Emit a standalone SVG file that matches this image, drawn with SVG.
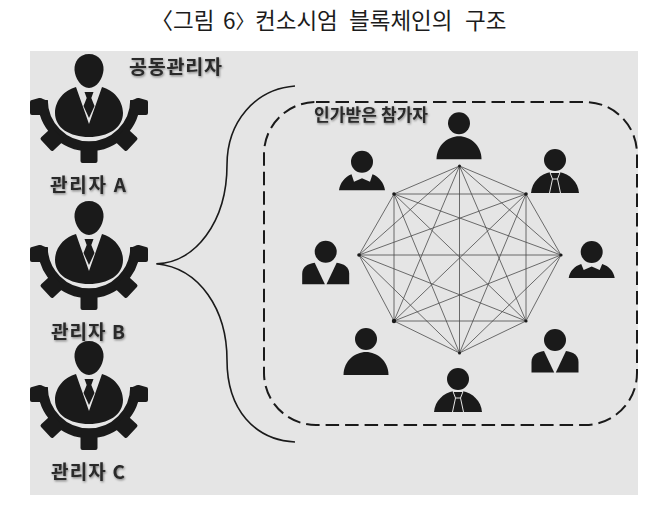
<svg xmlns="http://www.w3.org/2000/svg" xmlns:xlink="http://www.w3.org/1999/xlink" width="661" height="510" viewBox="0 0 661 510">
  <style>
    .ink { fill: #1a1a1a; }
    .gap { fill: none; stroke: #e5e5e5; stroke-width: 1; }
    .mesh line { stroke: #4a4a4a; stroke-width: 0.8; }
    .dot { fill: #1a1a1a; }
    .brace { fill: none; stroke: #1a1a1a; stroke-width: 1.6; }
    .group { fill: none; stroke: #1a1a1a; stroke-width: 2; stroke-dasharray: 13.5 6; }
    .label { font-family: "Noto Sans CJK KR", "Noto Sans", sans-serif; font-weight: 700; fill: #2a2a2a; filter: url(#soft); }
    .title { font-family: "Noto Sans CJK KR", sans-serif; font-weight: 400; font-size: 22.5px; fill: #1c1c1c; }
  </style>
  <defs>
    <filter id="soft" x="-10%" y="-20%" width="120%" height="150%">
      <feDropShadow dx="0.8" dy="1.2" stdDeviation="0.8" flood-color="#000" flood-opacity="0.45"/>
    </filter>
    <!-- Administrator: suited figure inside a cog, drawn around (89,105) -->
    <g id="admin">
      <path d="M42.800 100 A46 46 0 1 0 135.200 100" fill="none" stroke="#1a1a1a" stroke-width="10"/>
      <g class="ink">
        <path d="M32 100 L39 98 Q41 97.500 43 99 L48 101 L47 115 H32 Q30 115 30 113 V102 Q30 100 32 100Z"/>
        <path d="M146 100 L139 98 Q137 97.500 135 99 L130 101 L131 115 H146 Q148 115 148 113 V102 Q148 100 146 100Z"/>
        <rect x="80.500" y="147" width="17" height="16" rx="2"/>
        <rect x="80" y="147" width="18" height="17" rx="2" transform="rotate(47 89 105)"/>
        <rect x="80" y="147" width="18" height="17" rx="2" transform="rotate(-47 89 105)"/>
        <path d="M89 54 C99 54 104 62 103.500 70 C103 78 97 88 89 88 C81 88 75 78 74.500 70 C74 62 79 54 89 54Z"/>
        <path d="M76 87 C65 90 55 100 55 113 C55 128 70 137 89 137 C108 137 123 128 123 113 C123 100 113 90 102 87 L89 124Z"/>
        <path d="M84.500 92 H93.500 L91.300 98 L94.500 106 L89 118 L83.500 106 L86.700 98Z"/>
      </g>
    </g>
    <!-- Participant busts, origin at the centre of the head -->
    <g id="plain" class="ink">
      <circle r="11"/>
      <path d="M-22.500 36 C-22.500 22 -11 13 0 13 C11 13 22.500 22 22.500 36Z"/>
    </g>
    <g id="collar" class="ink">
      <circle r="11"/>
      <path d="M-23 28.500 C-22 21 -17 15 -10.500 12.500 L-8 20 L0 16.500 L8 20 L10.500 12.500 C17 15 22 21 23 28.500Z"/>
    </g>
    <g id="vneck" class="ink">
      <circle r="11"/>
      <path d="M-23.500 32.500 V22 C-23.500 15 -18 12 -11 11 L-0.800 32.500Z"/>
      <path d="M0.800 32.500 L11 11 C18 12 23.500 15 23.500 22 V32.500Z"/>
    </g>
    <g id="tie">
      <circle r="11" class="ink"/>
      <path class="ink" d="M-24 33 C-23 22 -15 14 -4 12 H4 C15 14 23 22 24 33Z"/>
      <path class="gap" d="M-5 12.500 H5 L2.500 19 H-2.500Z M-2.500 19 L-5.500 33 M2.500 19 L5.500 33"/>
    </g>
  </defs>

  <rect x="30" y="51" width="608" height="444" fill="#e5e5e5"/>
  <text class="title" y="29"><tspan x="150.500">〈</tspan><tspan x="173">그림</tspan><tspan x="223">6</tspan><tspan x="235.500" font-size="19">〉</tspan><tspan x="255">컨소시엄</tspan><tspan x="349">블록체인의</tspan><tspan x="465">구조</tspan></text>

  <g id="connectors">
    <path class="brace" d="M295 86 C255 89 227 122 227 165 C227 222 195 263 156.500 263.700"/>
    <path class="brace" d="M156.500 263.700 C200 268 227 310 227 360 C227 410 255 440 295 442"/>
    <g class="mesh">
      <line x1="459.500" y1="166" x2="526" y2="194"/>
      <line x1="459.500" y1="166" x2="561" y2="255"/>
      <line x1="459.500" y1="166" x2="526" y2="321"/>
      <line x1="459.500" y1="166" x2="459.500" y2="353"/>
      <line x1="459.500" y1="166" x2="394" y2="321"/>
      <line x1="459.500" y1="166" x2="359" y2="255"/>
      <line x1="459.500" y1="166" x2="394" y2="194"/>
      <line x1="526" y1="194" x2="561" y2="255"/>
      <line x1="526" y1="194" x2="526" y2="321"/>
      <line x1="526" y1="194" x2="459.500" y2="353"/>
      <line x1="526" y1="194" x2="394" y2="321"/>
      <line x1="526" y1="194" x2="359" y2="255"/>
      <line x1="526" y1="194" x2="394" y2="194"/>
      <line x1="561" y1="255" x2="526" y2="321"/>
      <line x1="561" y1="255" x2="459.500" y2="353"/>
      <line x1="561" y1="255" x2="394" y2="321"/>
      <line x1="561" y1="255" x2="359" y2="255"/>
      <line x1="561" y1="255" x2="394" y2="194"/>
      <line x1="526" y1="321" x2="459.500" y2="353"/>
      <line x1="526" y1="321" x2="394" y2="321"/>
      <line x1="526" y1="321" x2="359" y2="255"/>
      <line x1="526" y1="321" x2="394" y2="194"/>
      <line x1="459.500" y1="353" x2="394" y2="321"/>
      <line x1="459.500" y1="353" x2="359" y2="255"/>
      <line x1="459.500" y1="353" x2="394" y2="194"/>
      <line x1="394" y1="321" x2="359" y2="255"/>
      <line x1="394" y1="321" x2="394" y2="194"/>
      <line x1="359" y1="255" x2="394" y2="194"/>
    </g>
    <g>
      <circle class="dot" cx="459.500" cy="166" r="1.500"/>
      <circle class="dot" cx="526" cy="194" r="1.800"/>
      <circle class="dot" cx="561" cy="255" r="1.600"/>
      <circle class="dot" cx="526" cy="321" r="1.600"/>
      <circle class="dot" cx="459.500" cy="353" r="1.500"/>
      <circle class="dot" cx="394" cy="321" r="2.200"/>
      <circle class="dot" cx="359" cy="255" r="1.800"/>
      <circle class="dot" cx="394" cy="194" r="1.800"/>
    </g>
  </g>

  <g id="participants-boundary">
    <rect class="group" x="264" y="102" width="373" height="323" rx="52" ry="52"/>
  </g>

  <g id="admin-a">
    <use xlink:href="#admin" href="#admin"/>
    <text class="label" x="50" y="192" font-size="19" textLength="76">관리자 A</text>
  </g>
  <g id="admin-b">
    <use xlink:href="#admin" href="#admin" y="147"/>
    <text class="label" x="51" y="339" font-size="19" textLength="74">관리자 B</text>
  </g>
  <g id="admin-c">
    <use xlink:href="#admin" href="#admin" y="287"/>
    <text class="label" x="51" y="479" font-size="19" textLength="74">관리자 C</text>
  </g>
  <g id="joint-admin">
    <text class="label" x="129" y="74" font-size="19.500" textLength="93">공동관리자</text>
  </g>
  <g id="participants-label">
    <text class="label" x="314" y="121" font-size="17" textLength="114">인가받은 참가자</text>
  </g>

  <g id="participant-1"><use href="#plain" x="459" y="123.300"/></g>
  <g id="participant-2"><use href="#tie" x="555" y="160"/></g>
  <g id="participant-3" class="ink" transform="translate(591.700 252)">
    <circle r="11"/>
    <path d="M-23 26 C-22 19 -17 14 -10.500 12 L-8 18 L0 14.500 L8 18 L10.500 12 C17 14 22 19 23 26Z"/>
  </g>
  <g id="participant-4"><use href="#vneck" x="555" y="340"/></g>
  <g id="participant-5"><use href="#tie" x="458" y="379"/></g>
  <g id="participant-6"><use href="#plain" x="366" y="339"/></g>
  <g id="participant-7"><use href="#vneck" x="325.700" y="251.700"/></g>
  <g id="participant-8"><use href="#collar" x="362" y="161.700"/></g>
</svg>
